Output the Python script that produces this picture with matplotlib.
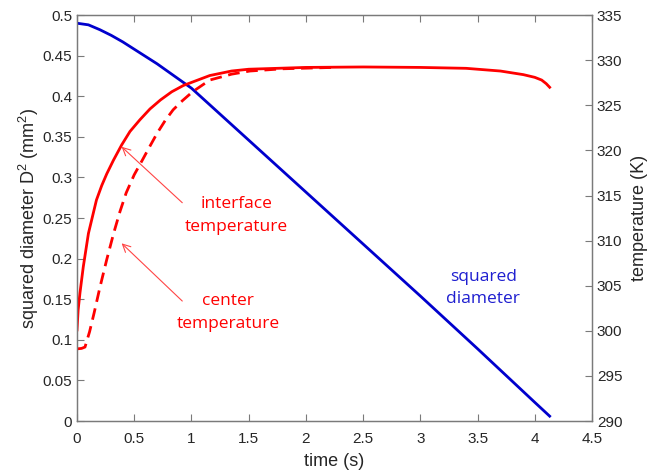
import numpy as np
import matplotlib.pyplot as plt

# squared diameter (mm^2) vs time (s)
t_d2 = [0, 0.1, 0.2, 0.3, 0.4, 0.5, 0.6, 0.7, 0.8, 0.9, 1.0, 1.5, 2.0, 2.5, 3.0, 3.5, 4.0, 4.13]
d2 = [0.490, 0.488, 0.482, 0.475, 0.467, 0.458, 0.449, 0.440, 0.430, 0.420, 0.410,
      0.346, 0.282, 0.218, 0.154, 0.089, 0.023, 0.006]

# interface temperature (K)
t_int = [0, 0.01, 0.026, 0.055, 0.1, 0.17, 0.216, 0.26, 0.318, 0.39, 0.463, 0.55, 0.638,
         0.73, 0.828, 0.93, 1.16, 1.35, 1.5, 2.0, 2.5, 3.0, 3.4, 3.7, 3.9, 4.0, 4.06,
         4.1, 4.13]
T_int = [300.1, 302.3, 304.2, 307.1, 310.8, 314.5, 316.1, 317.4, 318.9, 320.6, 322.1,
         323.4, 324.6, 325.6, 326.5, 327.2, 328.3, 328.8, 329.0, 329.2, 329.25, 329.2,
         329.1, 328.8, 328.4, 328.1, 327.8, 327.4, 327.0]

# center temperature (K)
t_cen = [0, 0.04, 0.07, 0.11, 0.15, 0.2, 0.26, 0.32, 0.375, 0.43, 0.5, 0.57, 0.63, 0.70,
         0.77, 0.84, 0.92, 1.01, 1.16, 1.35, 1.51, 1.8, 2.24]
T_cen = [298.0, 298.05, 298.2, 299.9, 302.0, 304.8, 307.9, 310.8, 313.2, 315.3, 317.3,
         318.9, 320.3, 321.9, 323.3, 324.5, 325.5, 326.5, 327.8, 328.45, 328.8, 329.05,
         329.2]

gray = '#7a7a7a'
txt = '#262626'
red = '#FF0000'
plt.rcParams['font.family'] = ['Liberation Sans', 'DejaVu Sans']
plt.rcParams['mathtext.fontset'] = 'custom'
plt.rcParams['mathtext.rm'] = 'Liberation Sans'

fig = plt.figure(figsize=(6.66, 4.72), dpi=100)
ax = fig.add_axes([0.1156, 0.108, 0.7733, 0.86])
ax2 = ax.twinx()

ax.plot(t_d2, d2, color='#0000CD', lw=2.0, zorder=3)
ax2.plot(t_cen, T_cen, color=red, lw=2.0, ls=(0, (4.2, 2.4)))
ax2.plot(t_int, T_int, color=red, lw=2.0)

ax.set_xlim(0, 4.5)
ax.set_ylim(0, 0.5)
ax2.set_ylim(290, 335)
ax.set_xticks(np.arange(0, 4.51, 0.5))
ax.set_xticklabels(['0', '0.5', '1', '1.5', '2', '2.5', '3', '3.5', '4', '4.5'])
ax.set_yticks(np.arange(0, 0.501, 0.05))
ax.set_yticklabels(['0', '0.05', '0.1', '0.15', '0.2', '0.25', '0.3', '0.35', '0.4', '0.45', '0.5'])
ax2.set_yticks(np.arange(290, 336, 5))

for a in (ax, ax2):
    for s in a.spines.values():
        s.set_color(gray)
        s.set_linewidth(0.9)
ax.tick_params(axis='both', direction='in', length=5, color=gray, labelcolor=txt,
               labelsize=11, top=True, width=0.8)
ax.tick_params(axis='x', pad=8)
ax2.tick_params(axis='y', direction='in', length=5, color=gray, labelcolor=txt,
                labelsize=11, width=0.8)

ax.set_xlabel('time (s)', fontsize=13, color=txt, labelpad=5)
ax.set_ylabel('squared diameter D$^\\mathregular{2}$ (mm$^\\mathregular{2}$)',
              fontsize=13, color=txt, labelpad=1)
ax2.set_ylabel('temperature (K)', fontsize=13, color=txt, labelpad=6)

afont = dict(family=['Open Sans', 'DejaVu Sans'], fontsize=12.5, color=red,
             ha='center', va='center', linespacing=1.55)
arrow = dict(arrowstyle='->', color='#FF4545', lw=0.8, shrinkA=0, shrinkB=0,
             mutation_scale=14)

# labels and pointers for the two temperature curves
ax2.text(1.395, 312.8, 'interface\ntemperature', **afont)
ax2.annotate('', xy=(0.39, 320.4), xytext=(0.92, 314.2), arrowprops=arrow)
ax2.text(1.32, 302.0, 'center\ntemperature', **afont)
ax2.annotate('', xy=(0.39, 309.7), xytext=(0.92, 303.3), arrowprops=arrow)

ax.text(3.55, 0.164, 'squared\ndiameter', family=['Open Sans', 'DejaVu Sans'],
        fontsize=12.5, color='#1F1FD0', ha='center', va='center', linespacing=1.55)

fig.savefig('out.png', dpi=100)
